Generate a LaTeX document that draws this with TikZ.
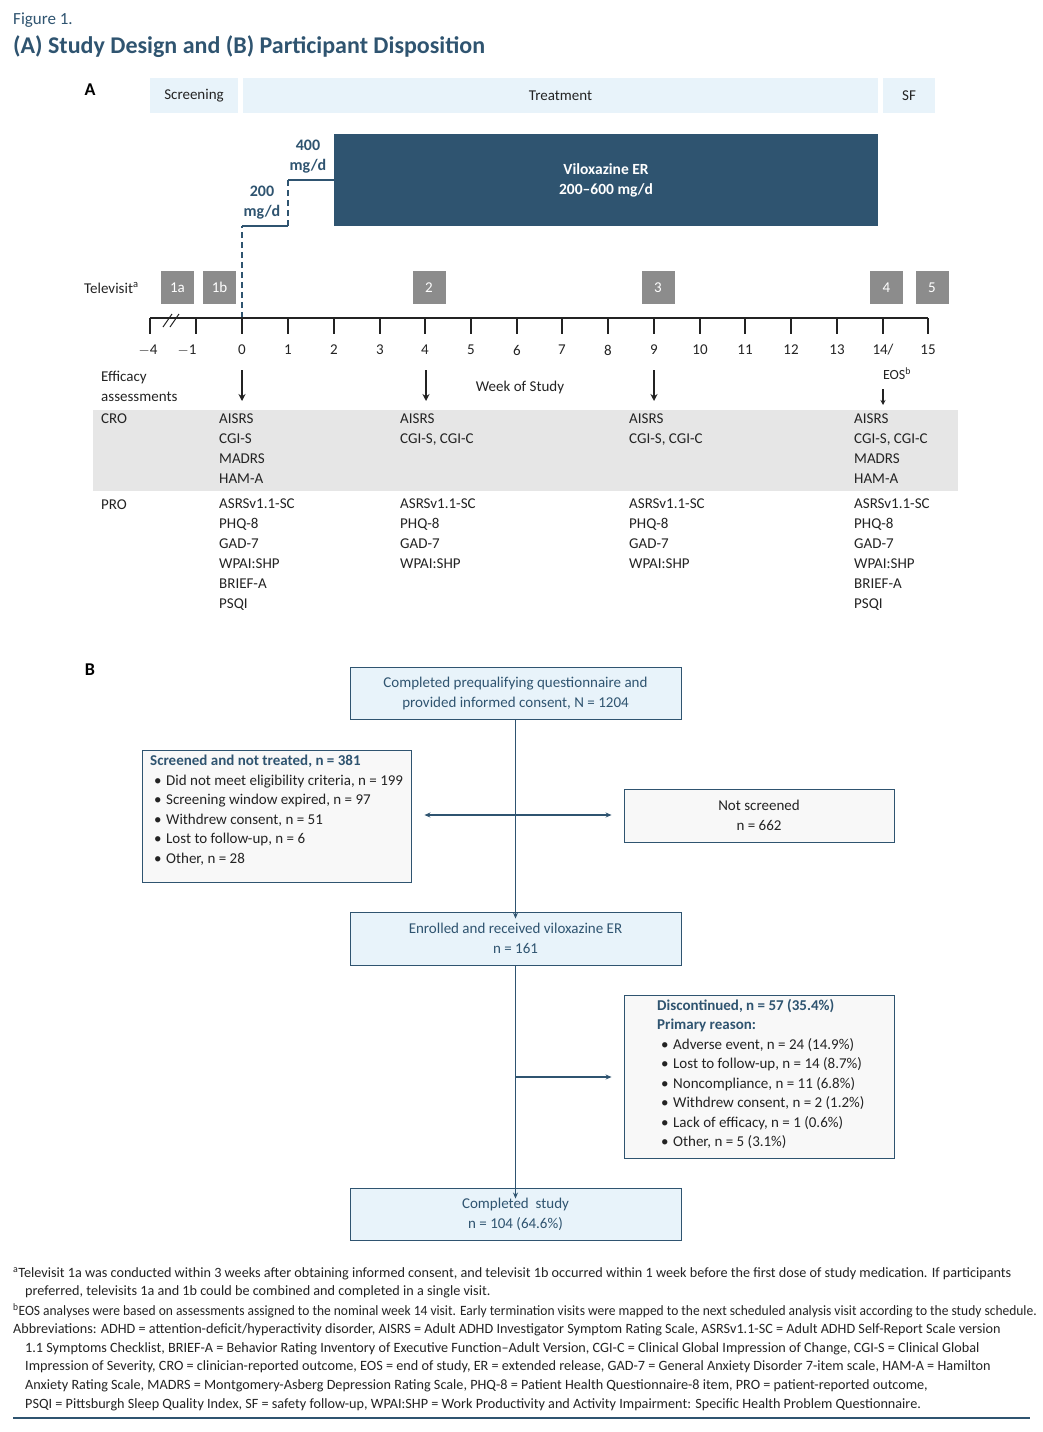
\documentclass[tikz,border=0pt]{standalone}
\usepackage{fontspec}
\setmainfont{Carlito}
\usepackage{tikz}
\usetikzlibrary{arrows.meta,calc,positioning}
\definecolor{azulOscuro}{RGB}{47,84,112}
\definecolor{azulClaro}{RGB}{232,243,250}
\definecolor{grisBanda}{RGB}{230,230,230}
\definecolor{grisVisita}{RGB}{140,140,140}
\definecolor{grisTexto}{RGB}{35,35,35}
\definecolor{blancoCaja}{RGB}{248,248,248}
\tikzstyle{hdr}=[fill=azulClaro, inner sep=0pt, font=\fontsize{15}{17}\selectfont, text=grisTexto]
\tikzstyle{visit}=[fill=grisVisita, text=white, minimum width=33pt,
                   minimum height=33pt, inner sep=0pt, font=\fontsize{15}{17}\selectfont]
\tikzstyle{tick}=[font=\fontsize{15}{17}\selectfont, text=grisTexto]
\tikzstyle{col}=[anchor=north west, align=left, inner sep=0pt,
                 font=\fontsize{15}{20}\selectfont, text=grisTexto]
\tikzstyle{flow}=[draw=azulOscuro, line width=0.9pt, fill=azulClaro, inner sep=0pt,
                  align=center, text=azulOscuro, font=\fontsize{15}{20}\selectfont]
\tikzstyle{side}=[draw=azulOscuro, line width=0.9pt, fill=blancoCaja, inner sep=0pt,
                  font=\fontsize{15}{19.5}\selectfont, text=grisTexto]
\tikzstyle{conn}=[draw=azulOscuro, line width=1.8pt, -{Stealth[length=6pt,width=5pt]}]
\tikzstyle{assess}=[line width=2.2pt, -{Stealth[length=7pt,width=7pt]}, grisTexto]
\tikzstyle{foot}=[anchor=west, inner sep=0pt, font=\fontsize{14.2}{16}\selectfont, text=grisTexto]
\newcommand{\bul}{\makebox[16pt][l]{\hspace{4pt}\textbullet}}
\begin{document}
\begin{tikzpicture}[x=1pt,y=-1pt]
    \useasboundingbox (0,0) rectangle (1042,1432);

    % title
    \node[anchor=west, inner sep=0pt, text=azulOscuro, font=\fontsize{17}{19}\selectfont] (fig) at (13,20) {Figure 1.};
    \node[anchor=west, inner sep=0pt, text=azulOscuro, font=\fontsize{24}{26}\bfseries] (ttl) at (13,47) {(A) Study Design and (B) Participant Disposition};

    % panel A
    \node[font=\fontsize{18}{20}\bfseries, inner sep=0pt] (labA) at (90,90) {A};
    \node[hdr, minimum width=88pt, minimum height=35pt] (scr) at (194,95.5) {Screening};
    \node[hdr, minimum width=635pt, minimum height=35pt] (trt) at (560.5,95.5) {Treatment};
    \node[hdr, minimum width=52pt, minimum height=35pt] (sf) at (909,95.5) {SF};

    \node[fill=azulOscuro, text=white, minimum width=544pt, minimum height=92pt, inner sep=0pt,
          align=center, font=\fontsize{15.5}{20}\bfseries] (vil) at (606,180) {Viloxazine ER\\200--600 mg/d};
    \node[text=azulOscuro, align=center, font=\fontsize{16}{20}\bfseries] (d200) at (262,203) {200\\mg/d};
    \node[text=azulOscuro, align=center, font=\fontsize{16}{20}\bfseries] (d400) at (308,157) {400\\mg/d};
    \draw[azulOscuro, line width=2pt, dash pattern=on 6pt off 4pt] (242,318) -- (242,226);
    \draw[azulOscuro, line width=2pt] (242,226) -- (288,226);
    \draw[azulOscuro, line width=2pt, dash pattern=on 6pt off 4pt] (288,226) -- (288,180);
    \draw[azulOscuro, line width=2pt] (288,180) -- (vil.west|-288,180);

    % televisits
    \node[anchor=west, inner sep=0pt, tick] (tv) at (84,288) {Televisit\textsuperscript{a}};
    \node[visit] (v1a) at (177.5,287.5) {1a};
    \node[visit] (v1b) at (219.5,287.5) {1b};
    \node[visit] (v2) at (429,287.5) {2};
    \node[visit] (v3) at (658,287.5) {3};
    \node[visit] (v4) at (886.5,287.5) {4};
    \node[visit] (v5) at (932,287.5) {5};

    % timeline
    \draw[grisTexto, line width=1.3pt] (150,318) -- (928,318);
    \foreach \x in {150,196,242,288,334,380,425,471,517,562,608,654,700,745,791,837,883,928}
        \draw[grisTexto, line width=1.3pt] (\x,318) -- (\x,334);
    \draw[grisTexto, line width=1pt] (163,327) -- (172,314) (170,327) -- (179,314);
    \foreach \x/\w in {148/$-$4,187/$-$1,242/0,288/1,334/2,380/3,425/4,471/5,517/6,562/7,608/8,654/9,700/10,745/11,791/12,837/13,883/{14\slash},928/15}
        \node[tick] at (\x,350) {\w};

    \node[col] (eff) at (101,371) {Efficacy\\assessments};
    \node[tick] (wk) at (520,387) {Week of Study};
    \node[tick, font=\fontsize{14}{16}\selectfont] (eos) at (897,374) {EOS\textsuperscript{b}};
    \foreach \x in {242,426,654}
        \draw[assess] (\x,370) -- (\x,401);
    \draw[grisTexto, line width=1.6pt, -{Stealth[length=5pt,width=5pt]}] (883,389) -- (883,405);

    % assessment table
    \fill[grisBanda] (93,410) rectangle (958,491);
    \node[col] (cro) at (101,414) {CRO};
    \node[col] (c0) at (219,414) {AISRS\\CGI-S\\MADRS\\HAM-A};
    \node[col] (c4) at (400,414) {AISRS\\CGI-S, CGI-C};
    \node[col] (c9) at (629,414) {AISRS\\CGI-S, CGI-C};
    \node[col] (c14) at (854,414) {AISRS\\CGI-S, CGI-C\\MADRS\\HAM-A};
    \node[col] (pro) at (101,500) {PRO};
    \node[col] (p0) at (219,499) {ASRSv1.1-SC\\PHQ-8\\GAD-7\\WPAI:SHP\\BRIEF-A\\PSQI};
    \node[col] (p4) at (400,499) {ASRSv1.1-SC\\PHQ-8\\GAD-7\\WPAI:SHP};
    \node[col] (p9) at (629,499) {ASRSv1.1-SC\\PHQ-8\\GAD-7\\WPAI:SHP};
    \node[col] (p14) at (854,499) {ASRSv1.1-SC\\PHQ-8\\GAD-7\\WPAI:SHP\\BRIEF-A\\PSQI};

    % panel B
    \node[font=\fontsize{18}{20}\bfseries, inner sep=0pt] (labB) at (90,670) {B};
    \node[flow, minimum width=331pt, minimum height=52pt] (cons) at (515.5,693)
        {Completed prequalifying questionnaire and\\provided informed consent, N = 1204};
    \node[side, minimum width=269pt, minimum height=132pt] (snt) at (276.5,816) {};
    \node[anchor=north west, align=left, inner sep=0pt, font=\fontsize{15}{19.5}\selectfont, text=grisTexto] (sntT) at (150,755)
        {\textcolor{azulOscuro}{\bfseries Screened and not treated, n = 381}\\
         \bul Did not meet eligibility criteria, n = 199\\
         \bul Screening window expired, n = 97\\
         \bul Withdrew consent, n = 51\\
         \bul Lost to follow-up, n = 6\\
         \bul Other, n = 28};
    \node[side, align=center, minimum width=270pt, minimum height=53pt] (nsc) at (759,815.5) {Not screened\\n = 662};
    \node[flow, minimum width=331pt, minimum height=53pt] (enr) at (515.5,938.5)
        {Enrolled and received viloxazine ER\\n = 161};
    \node[side, minimum width=270pt, minimum height=163pt] (dis) at (759,1076.5) {};
    \node[anchor=north west, align=left, inner sep=0pt, font=\fontsize{15}{19.5}\selectfont, text=grisTexto] (disT) at (657,999)
        {\textcolor{azulOscuro}{\bfseries Discontinued, n = 57 (35.4\%)}\\
         \textcolor{azulOscuro}{\bfseries Primary reason:}\\
         \bul Adverse event, n = 24 (14.9\%)\\
         \bul Lost to follow-up, n = 14 (8.7\%)\\
         \bul Noncompliance, n = 11 (6.8\%)\\
         \bul Withdrew consent, n = 2 (1.2\%)\\
         \bul Lack of efficacy, n = 1 (0.6\%)\\
         \bul Other, n = 5 (3.1\%)};
    \node[flow, minimum width=331pt, minimum height=52pt] (comp) at (515.5,1214)
        {Completed\ \ study\\n = 104 (64.6\%)};

    \coordinate (hub1) at (cons.south|-0,815);
    \coordinate (hub2) at (enr.south|-0,1077);
    \draw[conn] (cons.south) -- ([yshift=-7pt]enr.north);
    \draw[conn, shorten >=13pt] (hub1) -- (snt.east|-hub1);
    \draw[conn, shorten >=12pt] (hub1) -- (nsc.west|-hub1);
    \draw[conn] (enr.south) -- ([yshift=-11pt]comp.north);
    \draw[conn, shorten >=12pt] (hub2) -- (dis.west|-hub2);

    % footnotes
    \node[foot] (f1) at (13,1274) {\textsuperscript{a}Televisit 1a was conducted within 3 weeks after obtaining informed consent, and televisit 1b occurred within 1 week before the first dose of study medication. If participants};
    \node[foot] (f2) at (25,1292) {preferred, televisits 1a and 1b could be combined and completed in a single visit.};
    \node[foot] (f3) at (13,1311) {\scalebox{0.95}[1]{\textsuperscript{b}EOS analyses were based on assessments assigned to the nominal week 14 visit. Early termination visits were mapped to the next scheduled analysis visit according to the study schedule.}};
    \node[foot] (f4) at (13,1330) {Abbreviations: ADHD = attention-deficit/hyperactivity disorder, AISRS = Adult ADHD Investigator Symptom Rating Scale, ASRSv1.1-SC = Adult ADHD Self-Report Scale version};
    \node[foot] (f5) at (25,1349) {1.1 Symptoms Checklist, BRIEF-A = Behavior Rating Inventory of Executive Function--Adult Version, CGI-C = Clinical Global Impression of Change, CGI-S = Clinical Global};
    \node[foot] (f6) at (25,1367) {Impression of Severity, CRO = clinician-reported outcome, EOS = end of study, ER = extended release, GAD-7 = General Anxiety Disorder 7-item scale, HAM-A = Hamilton};
    \node[foot] (f7) at (25,1386) {Anxiety Rating Scale, MADRS = Montgomery-Asberg Depression Rating Scale, PHQ-8 = Patient Health Questionnaire-8 item, PRO = patient-reported outcome,};
    \node[foot] (f8) at (25,1405) {PSQI = Pittsburgh Sleep Quality Index, SF = safety follow-up, WPAI:SHP = Work Productivity and Activity Impairment: Specific Health Problem Questionnaire.};
    \draw[azulOscuro, line width=1.2pt] (13,1418) -- (1030,1418);
\end{tikzpicture}
\end{document}
